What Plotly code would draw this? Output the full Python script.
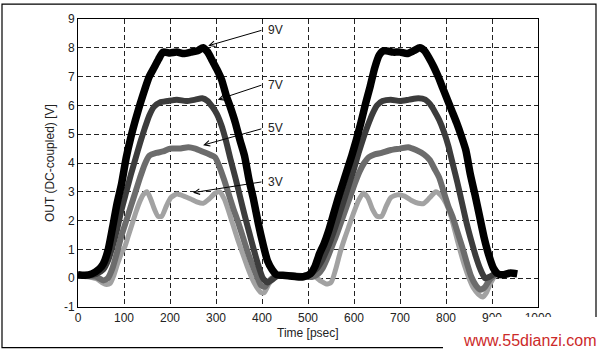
import plotly.graph_objects as go

# ---------------- data ----------------
t9 = [0, 15, 30, 45, 55, 65, 75, 85, 95, 105, 115, 125, 135, 145, 155, 165, 175, 185,
      200, 215, 230, 245, 260, 272, 282, 292, 302, 312, 322, 332, 342, 352, 362, 372,
      382, 392, 402, 412, 422, 432, 445, 460, 475, 490, 505, 515, 525, 535, 545, 555,
      565, 575, 585, 595, 605, 615, 625, 635, 645, 655, 665, 685, 700, 715, 730, 743,
      753, 763, 773, 783, 793, 803, 813, 823, 833, 843, 853, 863, 873, 883, 893, 903,
      913, 925, 940, 955]
v9 = [0.12, 0.10, 0.15, 0.30, 0.50, 0.95, 1.75, 2.60, 3.30, 4.20, 4.90, 5.50, 6.05, 6.55,
      7.00, 7.30, 7.60, 7.85, 7.82, 7.85, 7.80, 7.85, 7.90, 8.00, 7.85, 7.55, 7.25, 6.90,
      6.35, 5.90, 5.40, 4.80, 4.25, 3.40, 2.70, 1.90, 1.20, 0.60, 0.30, 0.12, 0.10, 0.08,
      0.05, 0.05, 0.15, 0.40, 0.85, 1.20, 1.65, 2.20, 2.75, 3.25, 3.75, 4.25, 4.80, 5.40,
      6.05, 6.65, 7.30, 7.75, 7.90, 7.85, 7.85, 7.80, 7.90, 8.00, 7.90, 7.65, 7.35, 7.00,
      6.60, 6.20, 5.80, 5.40, 4.95, 4.45, 3.60, 2.90, 2.15, 1.40, 0.80, 0.35, 0.15, 0.12,
      0.18, 0.15]

t7 = [0, 20, 40, 55, 65, 75, 85, 95, 105, 115, 125, 135, 145, 155, 165, 178, 195, 215,
      235, 255, 270, 282, 292, 302, 312, 322, 332, 342, 352, 362, 372, 382, 392, 402,
      412, 422, 435, 460, 490, 505, 520, 530, 540, 550, 560, 570, 580, 590, 600, 610,
      620, 630, 640, 650, 662, 680, 700, 720, 740, 755, 765, 775, 785, 795, 805, 815,
      825, 835, 845, 855, 865, 875, 885, 895, 905]
v7 = [0.12, 0.10, 0.15, 0.30, 0.60, 1.10, 1.70, 2.40, 3.00, 3.60, 4.15, 4.70, 5.20, 5.65,
      5.95, 6.10, 6.15, 6.20, 6.15, 6.20, 6.25, 6.15, 5.95, 5.70, 5.30, 4.75, 4.10, 3.50,
      2.85, 2.20, 1.60, 1.00, 0.45, 0.00, -0.15, -0.05, 0.10, 0.10, 0.08, 0.15, 0.35,
      0.60, 0.95, 1.35, 1.80, 2.30, 2.80, 3.30, 3.80, 4.35, 4.85, 5.30, 5.70, 6.00, 6.15,
      6.20, 6.15, 6.20, 6.25, 6.20, 6.05, 5.80, 5.50, 5.10, 4.60, 3.95, 3.30, 2.60, 1.90,
      1.30, 0.75, 0.30, 0.00, 0.05, 0.15]

t5 = [0, 20, 40, 55, 65, 75, 85, 95, 105, 115, 125, 135, 145, 155, 170, 185, 200, 220,
      240, 255, 270, 285, 298, 308, 318, 328, 338, 348, 358, 368, 378, 388, 398, 406,
      415, 428, 445, 470, 495, 510, 522, 532, 542, 552, 562, 572, 582, 592, 602, 612,
      622, 632, 645, 660, 680, 700, 718, 735, 752, 765, 775, 785, 795, 805, 815, 825,
      835, 845, 855, 865, 875, 885, 895, 905]
v5 = [0.10, 0.08, 0.05, -0.08, 0.00, 0.35, 0.90, 1.50, 2.00, 2.50, 3.00, 3.50, 3.95,
      4.25, 4.35, 4.40, 4.50, 4.50, 4.55, 4.50, 4.40, 4.30, 4.20, 3.85, 3.40, 2.90, 2.40,
      1.95, 1.45, 0.95, 0.50, 0.10, -0.25, -0.30, -0.10, 0.05, 0.10, 0.08, 0.05, 0.05,
      0.15, 0.35, 0.70, 1.10, 1.50, 1.95, 2.40, 2.85, 3.30, 3.70, 4.00, 4.20, 4.30, 4.35,
      4.45, 4.50, 4.55, 4.45, 4.30, 4.10, 3.80, 3.50, 3.00, 2.50, 2.10, 1.60, 1.10, 0.55,
      0.05, -0.25, -0.40, -0.30, -0.05, 0.10]

t3 = [0, 20, 40, 52, 62, 70, 78, 86, 94, 102, 110, 118, 126, 134, 142, 150, 158, 166,
      174, 182, 192, 202, 215, 230, 245, 258, 272, 285, 298, 308, 318, 328, 338, 348,
      358, 368, 378, 388, 398, 405, 415, 428, 445, 470, 495, 515, 528, 540, 550, 560,
      570, 580, 590, 600, 610, 620, 630, 640, 650, 660, 670, 680, 695, 710, 725, 740,
      752, 765, 778, 790, 800, 810, 820, 830, 840, 850, 860, 870, 880, 888, 896, 905]
v3 = [0.08, 0.05, -0.02, -0.15, -0.22, -0.18, 0.10, 0.50, 0.85, 1.10, 1.50, 1.90, 2.30,
      2.65, 2.90, 3.00, 2.75, 2.40, 2.15, 2.15, 2.50, 2.80, 2.92, 2.85, 2.75, 2.65, 2.60,
      2.75, 2.95, 3.00, 2.75, 2.30, 1.80, 1.30, 0.85, 0.40, 0.00, -0.30, -0.50, -0.50,
      -0.20, 0.05, 0.10, 0.08, 0.10, 0.05, -0.10, -0.20, -0.15, 0.30, 0.90, 1.40, 1.85,
      2.30, 2.70, 2.95, 2.80, 2.40, 2.15, 2.15, 2.50, 2.80, 2.90, 2.85, 2.70, 2.60, 2.60,
      2.80, 3.00, 2.85, 2.60, 2.20, 1.60, 1.00, 0.45, 0.00, -0.35, -0.55, -0.65, -0.50,
      -0.20, 0.05]

labels = ["9V", "7V", "5V", "3V"]
label_tail_t = [402, 402, 402, 402]
label_tail_v = [8.62, 6.72, 5.20, 3.35]
label_head_t = [283, 304, 272, 250]
label_head_v = [8.07, 6.20, 4.62, 2.97]

x_ticks = [0, 100, 200, 300, 400, 500, 600, 700, 800, 900, 1000]
y_ticks = [-1, 0, 1, 2, 3, 4, 5, 6, 7, 8, 9]

# ---------------- figure ----------------
W, H = 600, 352
ML, MR, MT, MB = 78, 62, 17, 45
PW, PH = W - ML - MR, H - MT - MB


def px2xp(px):
    return (px - ML) / PW


def py2yp(py):
    return (H - MB - py) / PH


fig = go.Figure()
series = [
    (t3, v3, "#a2a2a2", 5),
    (t5, v5, "#6c6c6c", 6),
    (t7, v7, "#3c3c3c", 6),
    (t9, v9, "#000000", 7.5),
]
for tt, vv, col, w in series:
    fig.add_trace(go.Scatter(x=tt, y=vv, mode="lines",
                             line=dict(color=col, width=w, shape="spline", smoothing=0.6),
                             showlegend=False, hoverinfo="skip"))

font = "Liberation Sans, Arial, sans-serif"
axis_common = dict(showline=True, mirror=True, linecolor="#000", linewidth=1,
                   showgrid=True, gridcolor="#222", gridwidth=1, griddash="5px,3px",
                   zeroline=False, ticks="", tickfont=dict(family=font, size=12, color="#222"))

fig.update_xaxes(range=[0, 1000], tickvals=x_ticks, ticktext=[str(v) for v in x_ticks],
                 **axis_common)
fig.update_yaxes(range=[-1, 9], tickvals=y_ticks, ticktext=[str(v) for v in y_ticks],
                 **axis_common)

annotations = []
for lab, tx, ty, hx, hy in zip(labels, label_tail_t, label_tail_v, label_head_t, label_head_v):
    annotations.append(dict(x=hx, y=hy, ax=tx, ay=ty, xref="x", yref="y", axref="x", ayref="y",
                            text="", showarrow=True, arrowhead=5, arrowsize=1.1, arrowwidth=1,
                            arrowcolor="#000"))
    annotations.append(dict(x=tx, y=ty, xref="x", yref="y", text=lab, showarrow=False,
                            xanchor="left", yanchor="middle", xshift=3,
                            font=dict(family=font, size=12, color="#222")))

annotations.append(dict(x=px2xp(308), y=py2yp(333), xref="paper", yref="paper",
                        text="Time [psec]", showarrow=False, xanchor="center", yanchor="middle",
                        font=dict(family=font, size=12, color="#222")))
annotations.append(dict(x=px2xp(50), y=py2yp(162), xref="paper", yref="paper",
                        text="OUT (DC-coupled) [V]", showarrow=False, textangle=-90,
                        xanchor="center", yanchor="middle",
                        font=dict(family=font, size=12, color="#222")))
annotations.append(dict(x=px2xp(530), y=py2yp(341), xref="paper", yref="paper",
                        text="www.55dianzi.com", showarrow=False, xanchor="center",
                        yanchor="middle",
                        font=dict(family=font, size=16, color="#cc2a2a")))

shapes = [
    # outer frame
    dict(type="rect", xref="paper", yref="paper",
         x0=px2xp(2), x1=px2xp(596), y0=py2yp(348), y1=py2yp(2),
         line=dict(color="#000", width=1.2), layer="below"),
    # white watermark patch
    dict(type="rect", xref="paper", yref="paper",
         x0=px2xp(443), x1=px2xp(600), y0=py2yp(352), y1=py2yp(324),
         line=dict(width=0), fillcolor="#fff", layer="above"),
    dict(type="rect", xref="paper", yref="paper",
         x0=px2xp(489), x1=px2xp(600), y0=py2yp(324), y1=py2yp(317),
         line=dict(width=0), fillcolor="#fff", layer="above"),
]

fig.update_layout(width=W, height=H, margin=dict(l=ML, r=MR, t=MT, b=MB),
                  paper_bgcolor="#fff", plot_bgcolor="#fff",
                  annotations=annotations, shapes=shapes,
                  font=dict(family=font))

fig.write_html("out.html")
